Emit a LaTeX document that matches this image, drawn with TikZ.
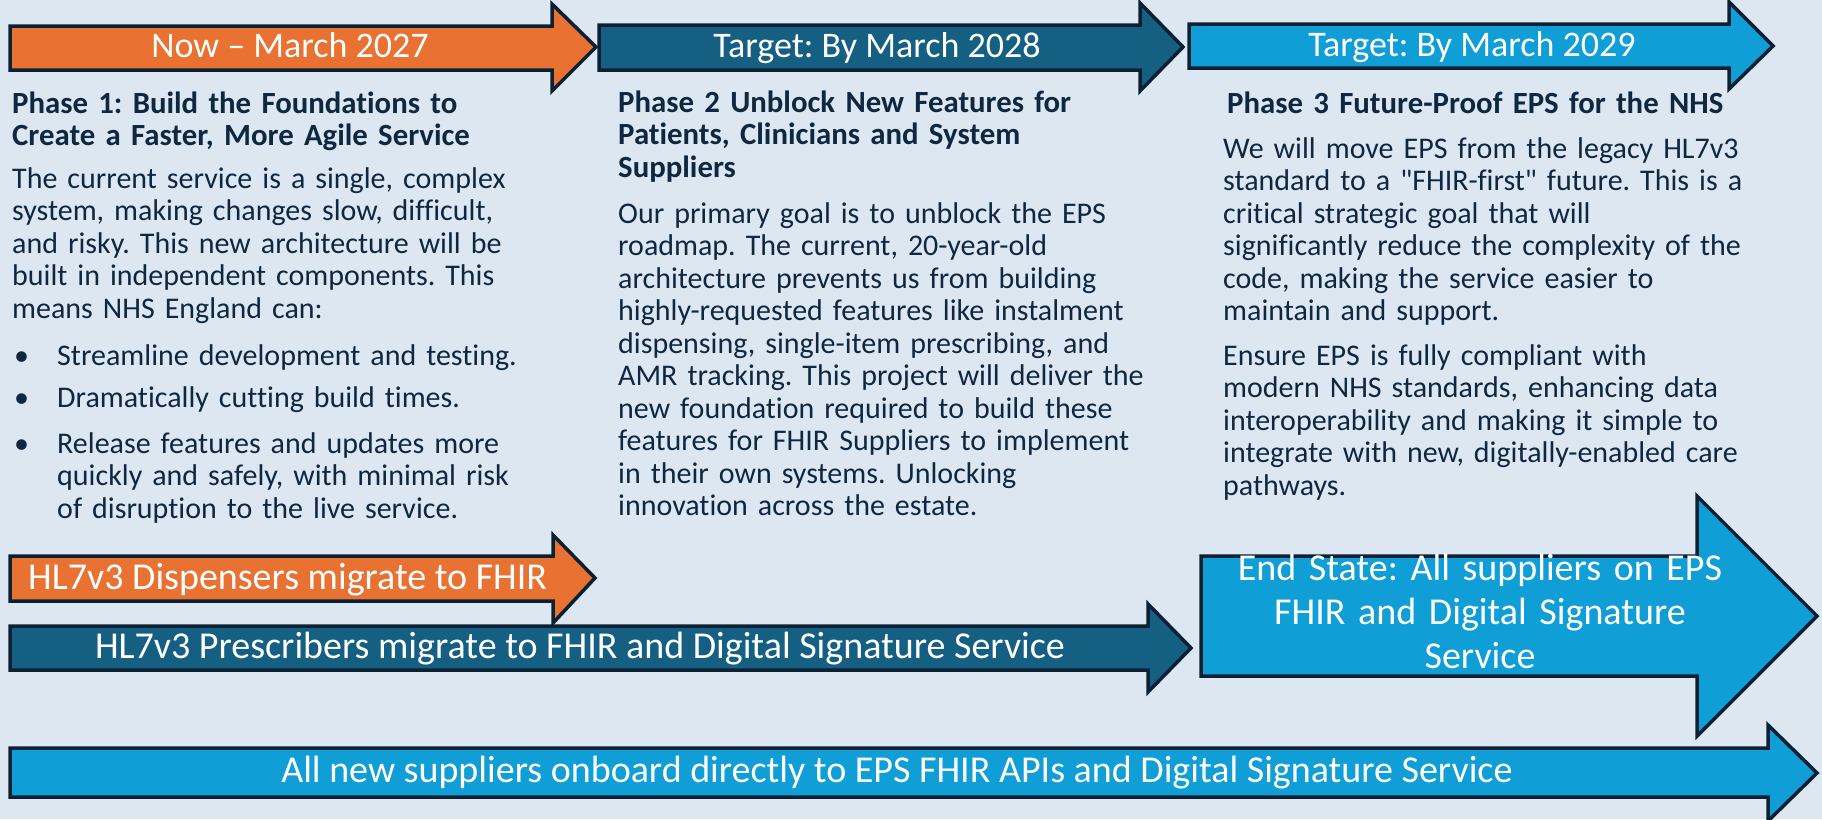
\documentclass[tikz,border=0pt]{standalone}
\usepackage{fontspec}
\newfontfamily\cfont{Carlito}[Ligatures=NoCommon]
\definecolor{bg}{HTML}{DDE7F2}
\definecolor{navy}{HTML}{0E2841}
\definecolor{outl}{HTML}{0B2033}
\definecolor{orng}{HTML}{E97132}
\definecolor{dblue}{HTML}{156082}
\definecolor{lblue}{HTML}{0F9ED5}
\begin{document}
\frenchspacing
\begin{tikzpicture}[x=1pt,y=-1pt,
  shp/.style={draw=outl, line width=3.5pt, line join=miter},
  toptxt/.style={text=white, font=\cfont\frenchspacing\fontsize{36}{43}\selectfont, anchor=base, inner sep=0pt},
  bottxt/.style={text=white, font=\cfont\frenchspacing\fontsize{38}{44}\selectfont, anchor=base, inner sep=0pt},
  headtxt/.style={text=navy, font=\cfont\frenchspacing\bfseries\fontsize{30.8}{32.5}\selectfont, anchor=base west, inner sep=0pt, text width=620pt, align=left},
  bodytxt/.style={text=navy, font=\cfont\frenchspacing\fontsize{30}{32.5}\selectfont, anchor=base west, inner sep=0pt, text width=620pt, align=left}]
\fill[bg] (0,0) rectangle (1822,819);
\useasboundingbox (0,0) rectangle (1822,819);

% top timeline arrows
\draw[shp, fill=orng] (10,26) -- (552,26) -- (552,4) -- (596,47) -- (552,91) -- (552,70) -- (10,70) -- cycle;
\draw[shp, fill=dblue] (599,25) -- (1140,25) -- (1140,3) -- (1183,47) -- (1140,91) -- (1140,70) -- (599,70) -- cycle;
\draw[shp, fill=lblue] (1189,24) -- (1729,24) -- (1729,2) -- (1773,46) -- (1729,89) -- (1729,68) -- (1189,68) -- cycle;
\node[toptxt] (t1) at (290,57) {Now – March 2027};
\node[toptxt] (t2) at (877,57) {Target: By March 2028};
\node[toptxt] (t3) at (1472,56) {Target: By March 2029};

% column 1
\node[headtxt] (h1) at (12,113) {Phase 1: Build the Foundations to\\Create a Faster, More Agile Service};
\node[bodytxt] (b1) at (12,188) {The current service is a single, complex\\system, making changes slow, difficult,\\and risky. This new architecture will be\\built in independent components. This\\means NHS England can:};
\node[bodytxt, text width=40pt] (d1) at (14,365) {\textbullet};
\node[bodytxt] (l1) at (57,365) {Streamline development and testing.};
\node[bodytxt, text width=40pt] (d2) at (14,407) {\textbullet};
\node[bodytxt] (l2) at (57,407) {Dramatically cutting build times.};
\node[bodytxt, text width=40pt] (d3) at (14,453) {\textbullet};
\node[bodytxt] (l3) at (57,453) {\makebox[463pt][s]{Release features and updates more}\\\makebox[463pt][s]{quickly and safely, with minimal risk}\\of disruption to the live service.};

% column 2
\node[headtxt] (h2) at (618,112) {Phase 2 Unblock New Features for\\Patients, Clinicians and System\\Suppliers};
\node[bodytxt] (b2) at (618,223) {Our primary goal is to unblock the EPS\\roadmap. The current, 20-year-old\\architecture prevents us from building\\highly-requested features like instalment\\dispensing, single-item prescribing, and\\AMR tracking. This project will deliver the\\new foundation required to build these\\features for FHIR Suppliers to implement\\in their own systems. Unlocking\\innovation across the estate.};

% column 3
\node[headtxt] (h3) at (1227,113) {Phase 3 Future-Proof EPS for the NHS};
\node[bodytxt] (b3) at (1223,158) {We will move EPS from the legacy HL7v3\\standard to a "FHIR-first" future. This is a\\critical strategic goal that will\\significantly reduce the complexity of the\\code, making the service easier to\\maintain and support.};
\node[bodytxt] (b4) at (1223,365) {Ensure EPS is fully compliant with\\modern NHS standards, enhancing data\\interoperability and making it simple to\\integrate with new, digitally-enabled care\\pathways.};

% lower arrows
\draw[shp, fill=orng] (10,556) -- (553,556) -- (553,535) -- (595,578) -- (553,623) -- (553,601) -- (10,601) -- cycle;
\draw[shp, fill=dblue] (10,626) -- (1148,626) -- (1148,604) -- (1191,648) -- (1148,692) -- (1148,670) -- (10,670) -- cycle;
\draw[shp, fill=lblue] (1201,556) -- (1697,556) -- (1697,496) -- (1817,616) -- (1697,736) -- (1697,676) -- (1201,676) -- cycle;
\draw[shp, fill=lblue] (10,748) -- (1768,748) -- (1768,725) -- (1817,773) -- (1768,821) -- (1768,797) -- (10,797) -- cycle;

\node[bottxt, anchor=base west] (a1) at (28,589) {HL7v3 Dispensers migrate to FHIR};
\node[bottxt] (a2) at (580,658) {HL7v3 Prescribers migrate to FHIR and Digital Signature Service};
\node[bottxt, text width=560pt, align=center] (a3) at (1480,580) {End State: All suppliers on EPS\\FHIR and Digital Signature\\Service};
\node[bottxt] (a4) at (897,782) {All new suppliers onboard directly to EPS FHIR APIs and Digital Signature Service};
\end{tikzpicture}
\end{document}
